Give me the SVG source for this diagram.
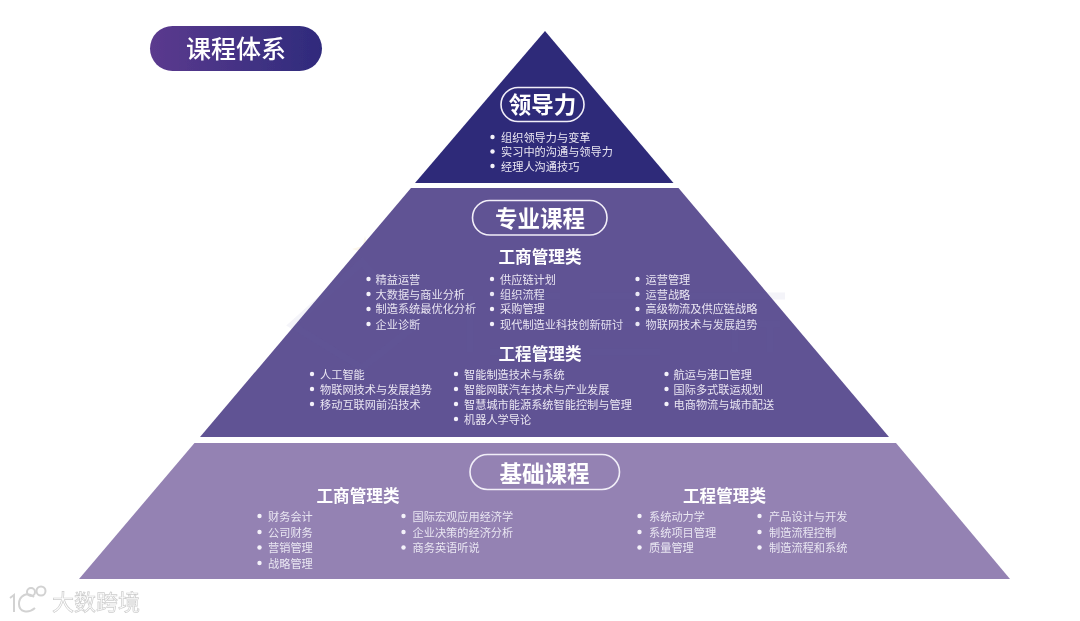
<svg xmlns="http://www.w3.org/2000/svg" width="1080" height="621" viewBox="0 0 1080 621">
<style>
text{font-family:"Noto Sans CJK SC","Noto Sans",sans-serif}
.it{font-size:11.2px;fill:#e9e6f2;dominant-baseline:central;transform:translateY(-1px)}
.b{fill:#f4f2fa}
.h{font-size:16.6px;font-weight:700;fill:#fff;text-anchor:middle;dominant-baseline:central;transform:translateY(-1px)}
.p{fill:none;stroke:#f1eef8;stroke-width:1.6}
.t{font-size:22.5px;font-weight:700;fill:#fff;text-anchor:middle;dominant-baseline:central;transform:translateY(-1.5px)}
.wm{fill:none;stroke:#5d6aa8;stroke-width:7;opacity:.07}
.soft{filter:url(#s)}
</style>
<defs>
<linearGradient id="g" x1="0" x2="1" y1="0" y2="0"><stop offset="0" stop-color="#5b3a8e"/><stop offset="1" stop-color="#2f2b7c"/></linearGradient>
<filter id="s" x="-5%" y="-5%" width="110%" height="110%"><feGaussianBlur stdDeviation="0.35"/></filter>
</defs>
<rect width="1080" height="621" fill="#fff"/>
<g id="title" class="soft">
<rect x="150" y="26" width="172" height="45" rx="22.5" fill="url(#g)"/>
<text x="236" y="47" font-size="25" font-weight="500" fill="#fff" text-anchor="middle" dominant-baseline="central">课程体系</text>
</g>
<g id="tier-top" class="soft">
<path d="M545 31L673.500 183H415Z" fill="#2f2b79"/>
<rect x="501" y="87.500" width="83" height="34" rx="17" class="p"/>
<text x="542.500" y="104.500" class="t">领导力</text>
<g class="b"><circle cx="492.500" cy="137" r="2.200"/><circle cx="492.500" cy="151.500" r="2.200"/><circle cx="492.500" cy="166" r="2.200"/></g>
<text x="501" y="137.500" class="it">组织领导力与变革</text>
<text x="501" y="151.500" class="it">实习中的沟通与领导力</text>
<text x="501" y="166.500" class="it">经理人沟通技巧</text>
</g>
<g id="watermark-star">
<path d="M365 236L367.500 246L378 249L367.500 252L365 262L362.500 252L352 249L362.500 246Z" fill="#f5e6c4" opacity=".35"/>
</g>
<g id="tier-middle" class="soft">
<path d="M411 188H678.500L889 437H200Z" fill="#615294"/>
<rect x="472.500" y="200.500" width="134.500" height="34.500" rx="17.200" class="p"/>
<text x="540" y="218" class="t">专业课程</text>
<text x="540" y="257" class="h">工商管理类</text>
<g class="b"><circle cx="368.500" cy="279" r="2.200"/><circle cx="368.500" cy="294" r="2.200"/><circle cx="368.500" cy="309" r="2.200"/><circle cx="368.500" cy="324" r="2.200"/><circle cx="492" cy="279" r="2.200"/><circle cx="492" cy="294" r="2.200"/><circle cx="492" cy="309" r="2.200"/><circle cx="492" cy="324" r="2.200"/><circle cx="637.500" cy="279" r="2.200"/><circle cx="637.500" cy="294" r="2.200"/><circle cx="637.500" cy="309" r="2.200"/><circle cx="637.500" cy="324" r="2.200"/></g>
<text x="375.500" y="279.500" class="it">精益运营</text>
<text x="375.500" y="294.500" class="it">大数据与商业分析</text>
<text x="375.500" y="309" class="it">制造系统最优化分析</text>
<text x="375.500" y="324.500" class="it">企业诊断</text>
<text x="500" y="279.500" class="it">供应链计划</text>
<text x="500" y="294.500" class="it">组织流程</text>
<text x="500" y="309" class="it">采购管理</text>
<text x="500" y="324.500" class="it">现代制造业科技创新研讨</text>
<text x="645.500" y="279.500" class="it">运营管理</text>
<text x="645.500" y="294.500" class="it">运营战略</text>
<text x="645.500" y="309" class="it">高级物流及供应链战略</text>
<text x="645.500" y="324.500" class="it">物联网技术与发展趋势</text>
<text x="540" y="353.500" class="h">工程管理类</text>
<g class="b"><circle cx="312" cy="374" r="2.200"/><circle cx="312" cy="389" r="2.200"/><circle cx="312" cy="404" r="2.200"/><circle cx="456" cy="374" r="2.200"/><circle cx="456" cy="389" r="2.200"/><circle cx="456" cy="404" r="2.200"/><circle cx="456" cy="419" r="2.200"/><circle cx="666.500" cy="374" r="2.200"/><circle cx="666.500" cy="389" r="2.200"/><circle cx="666.500" cy="404" r="2.200"/></g>
<text x="320" y="374.500" class="it">人工智能</text>
<text x="320" y="389.500" class="it">物联网技术与发展趋势</text>
<text x="320" y="405" class="it">移动互联网前沿技术</text>
<text x="464" y="374.500" class="it">智能制造技术与系统</text>
<text x="464" y="389.500" class="it">智能网联汽车技术与产业发展</text>
<text x="464" y="405" class="it">智慧城市能源系统智能控制与管理</text>
<text x="464" y="419.500" class="it">机器人学导论</text>
<text x="673.500" y="374.500" class="it">航运与港口管理</text>
<text x="673.500" y="389.500" class="it">国际多式联运规划</text>
<text x="673.500" y="405" class="it">电商物流与城市配送</text>
</g>
<g id="tier-bottom" class="soft">
<path d="M194.500 443H896L1010 579H79Z" fill="#9482b3"/>
<rect x="470" y="454.500" width="149.500" height="35" rx="17.500" class="p"/>
<text x="544.500" y="473.500" class="t">基础课程</text>
<text x="358" y="495.500" class="h">工商管理类</text>
<text x="724.500" y="495.500" class="h">工程管理类</text>
<g class="b"><circle cx="259.500" cy="516" r="2.200"/><circle cx="259.500" cy="532" r="2.200"/><circle cx="259.500" cy="547.500" r="2.200"/><circle cx="259.500" cy="563" r="2.200"/><circle cx="403.500" cy="516" r="2.200"/><circle cx="403.500" cy="532" r="2.200"/><circle cx="403.500" cy="547.500" r="2.200"/><circle cx="639.500" cy="516" r="2.200"/><circle cx="639.500" cy="532" r="2.200"/><circle cx="639.500" cy="547.500" r="2.200"/><circle cx="759.500" cy="516" r="2.200"/><circle cx="759.500" cy="532" r="2.200"/><circle cx="759.500" cy="547.500" r="2.200"/></g>
<text x="268" y="517" class="it">财务会计</text>
<text x="268" y="532.500" class="it">公司财务</text>
<text x="268" y="548" class="it">营销管理</text>
<text x="268" y="563.500" class="it">战略管理</text>
<text x="412.500" y="517" class="it">国际宏观应用经济学</text>
<text x="412.500" y="532.500" class="it">企业决策的经济分析</text>
<text x="412.500" y="547.500" class="it">商务英语听说</text>
<text x="649" y="517" class="it">系统动力学</text>
<text x="649" y="532.500" class="it">系统项目管理</text>
<text x="649" y="548" class="it">质量管理</text>
<text x="769" y="517" class="it">产品设计与开发</text>
<text x="769" y="532.500" class="it">制造流程控制</text>
<text x="769" y="548" class="it">制造流程和系统</text>
</g>
<g id="watermark-marks">
<path class="wm" d="M292 325L362 262L416 325L362 368Z"/>
<path class="wm" d="M470 296V352M490 296H560M490 352H560M590 296H660M590 324H660M590 352H660M690 296H785M700 324H780M735 296V352M770 324V352"/>
</g>
<g id="logo" class="soft">
<g fill="none" stroke="#d2d2d2" stroke-width="2">
<path d="M10 598L14 595V612M34 597C27 591 19 596 19 604C19 612 28 614 35 608"/>
<circle cx="31" cy="592" r="4"/><circle cx="41" cy="591" r="4.500"/>
</g>
<text x="52" y="600" font-size="22" fill="#fff" stroke="#cdcdcd" stroke-width=".7" dominant-baseline="central">大数跨境</text>
</g>
</svg>
